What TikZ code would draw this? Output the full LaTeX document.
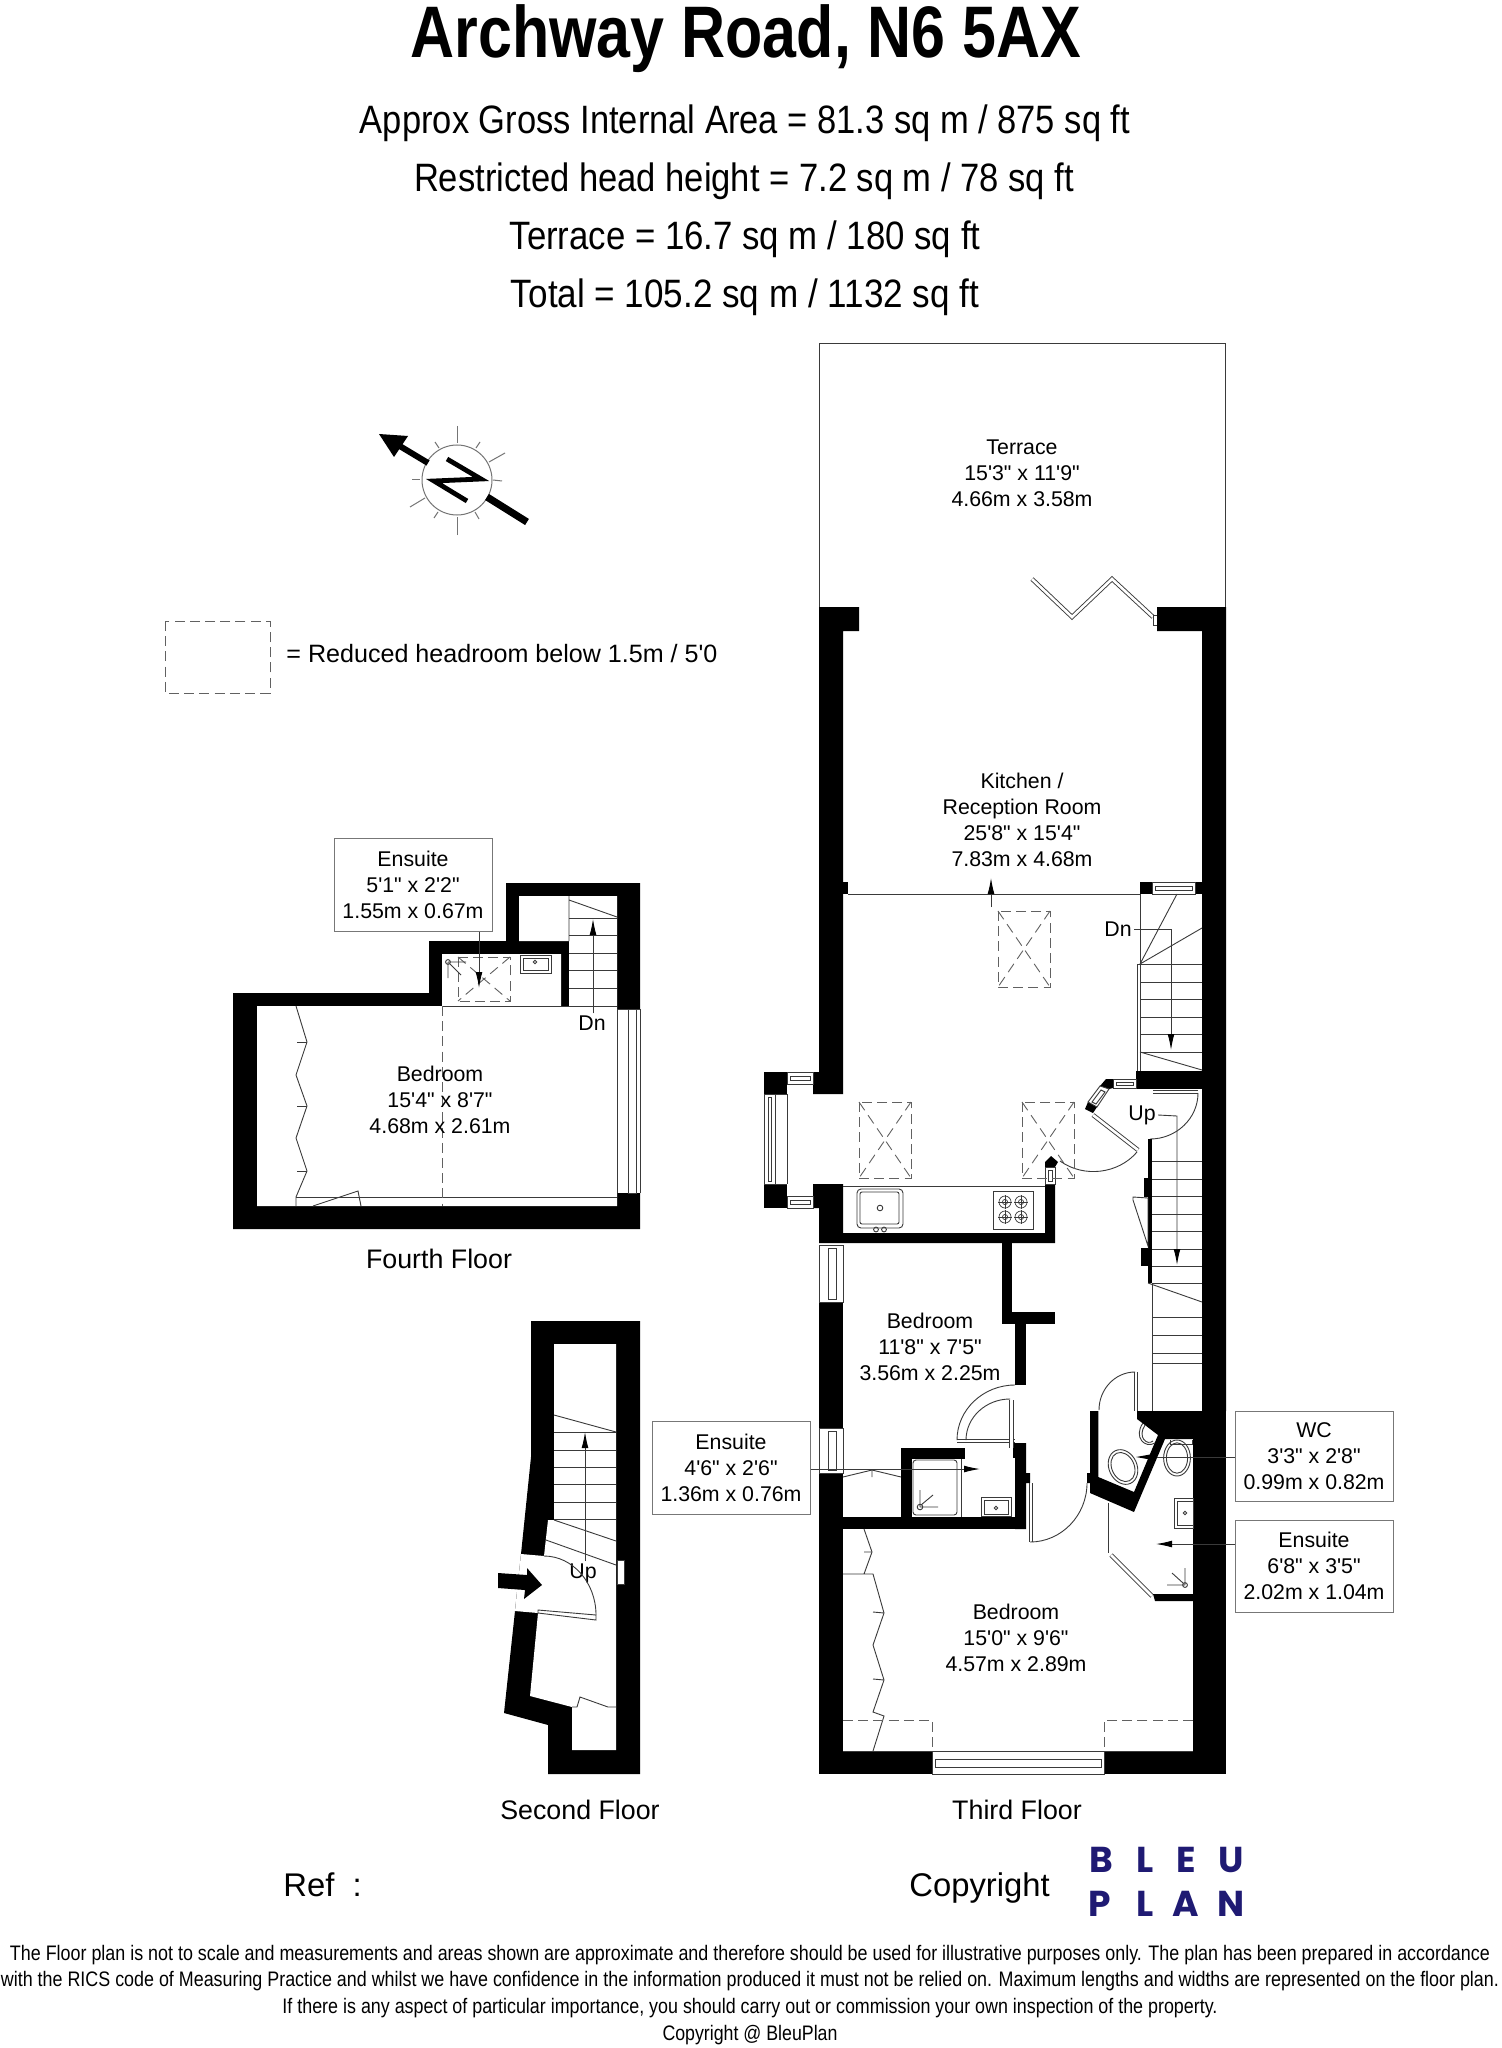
\documentclass[tikz,border=0pt]{standalone}
\usepackage{fontspec}
\usepackage{graphicx}
\setmainfont{Liberation Sans}[Ligatures=TeXOff]
\newfontfamily\logofont{Poppins}
\usetikzlibrary{calc,arrows.meta}
\definecolor{ln}{HTML}{3A3A3A}
\definecolor{boxln}{HTML}{777777}
\definecolor{navy}{HTML}{1F1A73}
\newcommand\fitw[3]{\resizebox{#1pt}{\height}{\fontsize{#2}{#2}\selectfont #3}}
\newcommand\winH[4]{%
  \pgfmathsetmacro\wya{#2+0.38*(#4-#2)}\pgfmathsetmacro\wyb{#2+0.72*(#4-#2)}%
  \pgfmathsetmacro\wxa{#1+3}\pgfmathsetmacro\wxb{#3-3}%
  \draw[thinl,fill=white] (#1,#2) rectangle (#3,#4);
  \draw[thinl] (\wxa,\wya) rectangle (\wxb,\wyb);}
\newcommand\winV[4]{%
  \pgfmathsetmacro\wxa{#1+0.38*(#3-#1)}\pgfmathsetmacro\wxb{#1+0.72*(#3-#1)}%
  \pgfmathsetmacro\wya{#2+3}\pgfmathsetmacro\wyb{#4-3}%
  \draw[thinl,fill=white] (#1,#2) rectangle (#3,#4);
  \draw[thinl] (\wxa,\wya) rectangle (\wxb,\wyb);}
\newcommand\qarc[6]{\draw[thinl] (#1,#2) .. controls ($(#1,#2)!.55!(#5,#6)$) and ($(#3,#4)!.55!(#5,#6)$) .. (#3,#4);}
\newcommand\skylight[4]{%
  \draw[dashl] (#1,#2) rectangle (#3,#4);
  \draw[dashl,dash pattern=on 5pt off 3pt] (#1,#2) -- (#3,#4) (#3,#2) -- (#1,#4);}
\tikzset{
  wall/.style={fill=black,draw=none},
  thinl/.style={draw=ln,line width=.45pt},
  dashl/.style={draw=ln!80,line width=.45pt,dash pattern=on 5pt off 2.6pt},
  leaf/.style={draw=ln,line width=.45pt,double=white,double distance=1.3pt},
  tipl/.style={thinl,-{Latex[length=8pt,width=3.4pt,black]}},
  room/.style={inner sep=0pt,align=center,font=\fontsize{10.66}{13}\selectfont},
  lbox/.style={draw=boxln,line width=.5pt,fill=white,inner sep=0pt,align=center,font=\fontsize{10.66}{13}\selectfont},
  floorl/.style={inner sep=0pt,font=\fontsize{13.4}{16}\selectfont},
  big/.style={inner sep=0pt,anchor=base west,font=\fontsize{16.4}{20}\selectfont},
  heading/.style={inner sep=0pt,anchor=base},
  logol/.style={inner sep=0pt,text=navy,font=\logofont\bfseries\fontsize{18}{18}\selectfont}
}
\begin{document}
\begin{tikzpicture}[x=0.5pt,y=-0.5pt,line join=miter]
\useasboundingbox (0,0) rectangle (1502,2048);
\fill[white] (0,0) rectangle (1502,2048);
% ---------- headings
\node[heading] (title) at (746,58) {\fitw{335.5}{36.5}{\bfseries Archway Road, N6 5AX}};
\node[heading] (s1) at (745,134) {\fitw{385}{19.8}{Approx Gross Internal Area = 81.3 sq m / 875 sq ft}};
\node[heading] (s2) at (744,192) {\fitw{330}{19.8}{Restricted head height = 7.2 sq m / 78 sq ft}};
\node[heading] (s3) at (745,250) {\fitw{235.4}{19.8}{Terrace = 16.7 sq m / 180 sq ft}};
\node[heading] (s4) at (745,308) {\fitw{234}{19.8}{Total = 105.2 sq m / 1132 sq ft}};
% ---------- compass
\draw[line width=.5pt,draw=ln!70] (457,480) circle (17.5pt);
\foreach \a/\b/\c/\d in {457/426/457/443, 457/535/457/517, 489/462/505/453, 410/507/425/498,
  435/442/439/448, 480/442/476/448, 412/479/420/479, 493/480/502/481, 434/518/438/512, 479/519/475/512}
  \draw[line width=.5pt,draw=ln!70] (\a,\b) -- (\c,\d);
\draw[line width=3.6pt] (527,522) -- (487,497);
\draw[line width=3pt] (428,463) -- (398,445);
\fill (379,434) -- (408,436) -- (394,457) -- cycle;
\draw[line width=2.4pt] (447,459) -- (481,479) -- (434,481) -- (467,501);
% ---------- legend
\draw[dashl] (165,621) rectangle (270,693);
\node[inner sep=0pt,anchor=west,font=\fontsize{12.55}{15}\selectfont] (legend) at (286,654) {= Reduced headroom below 1.5m / 5'0};
% ---------- terrace
\draw[thinl] (819,607) -- (819,343) -- (1225,343) -- (1225,607);
\node[room] (terrace) at (1022,473) {Terrace\\15'3" x 11'9"\\4.66m x 3.58m};
\draw[leaf] (1032,579) -- (1072,617) -- (1112,579) -- (1153,617);
\draw[thinl] (1153,615) rectangle (1157,625);
% ---------- third floor walls
\fill[wall] (819,607) -- (859,607) -- (859,631) -- (843,631) -- (843,1094) -- (813,1094) -- (813,1072) -- (819,1072) -- cycle;
\fill[wall] (843,882) rectangle (848,894);
\fill[wall] (1157,607) -- (1226,607) -- (1226,1411) -- (1202,1411) -- (1202,631) -- (1157,631) -- cycle;
\fill[wall] (1193,1439) rectangle (1226,1774);
\fill[wall] (1202,1405) rectangle (1226,1445);
\fill[wall] (819,1751) rectangle (932,1774);
\fill[wall] (1104,1751) rectangle (1226,1774);
\fill[wall] (819,1473) rectangle (843,1774);
\fill[wall] (819,1302) rectangle (843,1428);
\fill[wall] (813,1184) -- (843,1184) -- (843,1233) -- (1045,1233) -- (1045,1184) -- (1055,1184) -- (1055,1243) -- (819,1243) -- (819,1208) -- (813,1208) -- cycle;
\fill[wall] (764,1072) rectangle (787,1094);
\fill[wall] (764,1184) rectangle (787,1208);
% top window
\fill[wall] (1140,882) rectangle (1152,894);
\fill[wall] (1195,882) rectangle (1202,894);
\winH{1152}{882}{1195}{894}
\draw[thinl] (848,894) -- (1140,894);
% bay windows
\winH{787}{1072}{813}{1084}
\winH{787}{1196}{813}{1208}
\winV{764}{1094}{775}{1184}
\draw[thinl] (764,1094) -- (787,1094) (787,1094) -- (787,1184) (775,1184) -- (787,1184);
% left wall windows
\winV{819}{1245}{843}{1302}
\winV{819}{1428}{843}{1473}
% bottom window
\winH{932}{1751}{1104}{1774}
% top door wall and angled window
\fill[wall] (1136,1071) rectangle (1202,1089);
\winH{1113}{1079}{1136}{1088}
\fill[wall] (1106,1079) -- (1113,1079) -- (1113,1088) -- (1109,1089) -- (1100,1086) -- cycle;
\fill[wall] (1085,1109) -- (1088,1102) -- (1097,1107) -- (1093,1113) -- cycle;
\draw[thinl,fill=white] (1088,1102) -- (1100,1086) -- (1109,1089) -- (1097,1107) -- cycle;
\draw[thinl] (1092,1102) -- (1101,1090) -- (1105,1092) -- (1096,1104) -- cycle;
% kitchen door
\draw[leaf] (1093,1115) -- (1138,1150);
\qarc{1137}{1152}{1060}{1161}{1103}{1192}
\fill[wall] (1045,1167) -- (1045,1162) -- (1051,1156) -- (1058,1162) -- (1055,1167) -- cycle;
\winV{1045}{1167}{1055}{1184}
% kitchen fittings
\draw[thinl] (843,1186) -- (1045,1186);
\draw[thinl,rounded corners=2pt] (857,1189) rectangle (903,1228);
\draw[thinl,rounded corners=1pt] (860,1192) rectangle (899,1224);
\draw[thinl] (880,1208) circle (1.4pt) (876,1229.5) circle (1.2pt) (884,1229.5) circle (1.2pt);
\draw[thinl] (993,1191) rectangle (1033,1229);
\foreach \bx/\by in {1005/1202,1021/1202,1005/1217,1021/1217}{
  \draw[thinl,line width=.35pt] (\bx,\by) circle (3pt) (\bx,\by) circle (1.3pt);
  \draw[thinl,line width=.35pt] (\bx-7,\by) -- (\bx+7,\by) (\bx,\by-7) -- (\bx,\by+7);}
% skylights
\skylight{998}{911}{1050}{987}
\skylight{859}{1102}{911}{1178}
\skylight{1022}{1102}{1074}{1178}
% up-arrow kitchen
\coordinate (kstart) at (991,907);
\coordinate (ktip) at (991,878);
\draw[tipl] (kstart) -- (ktip);
\node[room] (kitchen) at (1022,820) {Kitchen /\\Reception Room\\25'8" x 15'4"\\7.83m x 4.68m};
% stairs down from kitchen
\draw[thinl] (1140,894) -- (1140,1071) (1137,964) -- (1137,1071) (1137,964) -- (1140,964);
\draw[thinl] (1140,964) -- (1177,894) (1140,964) -- (1202,928) (1140,1052) -- (1202,1070);
\foreach \ty in {964,982,999,1017,1034,1052}
  \draw[thinl] (1140,\ty) -- (1202,\ty);
\node[inner sep=0pt,font=\fontsize{10.66}{13}\selectfont] (dn1) at (1118,929) {Dn};
\coordinate (dn1c) at (1171,929);
\coordinate (dn1t) at (1171,1050);
\draw[tipl] (dn1.east) ++(2,0) -- (dn1c) -- (dn1t);
% up door and stairs
\draw[leaf] (1153,1092) -- (1198,1092);
\qarc{1198}{1093}{1150}{1139}{1198}{1139}
\fill[wall] (1148,1139) rectangle (1152,1283);
\fill[wall] (1144,1178) rectangle (1148,1197);
\fill[wall] (1141,1248) rectangle (1148,1266);
\draw[thinl] (1133,1197) -- (1148,1198) -- (1148,1246) -- (1133,1200) -- cycle;
\foreach \ty in {1161,1179,1196,1214,1231,1249,1266,1283,1317,1335,1353,1363}
  \draw[thinl] (1152,\ty) -- (1202,\ty);
\draw[thinl] (1148,1283) -- (1202,1302);
\draw[thinl] (1152,1283) -- (1152,1411);
\node[inner sep=0pt,font=\fontsize{10.66}{13}\selectfont] (up1) at (1142,1115) {Up};
\coordinate (up1c) at (1177,1116);
\coordinate (up1t) at (1177,1265);
\draw[tipl] (up1.east) ++(2,0) -- (up1c) -- (up1t);
% bedroom partition walls
\fill[wall] (1002,1243) rectangle (1012,1324);
\fill[wall] (1002,1312) rectangle (1055,1324);
\fill[wall] (1015,1324) rectangle (1026,1385);
\node[room] (bed2) at (930,1347) {Bedroom\\11'8" x 7'5"\\3.56m x 2.25m};
% lower ensuite
\fill[wall] (843,1517) rectangle (1026,1529);
\fill[wall] (1015,1443) -- (1026,1443) -- (1026,1473) -- (1030,1473) -- (1030,1483) -- (1026,1483) -- (1026,1529) -- (1015,1529) -- cycle;
\fill[wall] (1013,1443) rectangle (1015,1458);
\fill[wall] (901,1448) rectangle (965,1459);
\fill[wall] (901,1448) rectangle (912,1517);
\draw[thinl,rounded corners=1.5pt] (913,1460) rectangle (957,1515);
\draw[thinl] (961,1459) -- (961,1517);
\draw[thinl] (981,1497) rectangle (1011,1516) (984,1500) rectangle (1008,1514);
\draw[thinl] (996,1508) circle (.9pt);
\draw[thinl] (920,1507) circle (1.4pt) (920,1507) -- (920,1490) (920,1507) -- (938,1507) (921,1505) -- (933,1495);
\draw[leaf] (957,1441) -- (1015,1441);
\draw[leaf] (1011.5,1400) -- (1011.5,1448);
\qarc{957}{1440}{1015}{1385}{957}{1385}
\qarc{966}{1440}{1010}{1399}{966}{1399}
\draw[thinl] (843,1477) -- (872,1470) -- (901,1477) (872,1470) -- (872,1477);
\node[lbox,minimum width=79pt,minimum height=46.5pt] (ensA) at (731,1468) {Ensuite\\4'6" x 2'6"\\1.36m x 0.76m};
\coordinate (ensAt) at (980,1469);
\draw[tipl] (ensA.east |- ensAt) -- (ensAt);
% WC block
\fill[wall] (1090,1411) -- (1098.3,1411) -- (1098.3,1477) -- (1134,1492) -- (1158,1435) -- (1137,1419) -- (1137,1411) -- (1202,1411) -- (1202,1439) -- (1165,1439) -- (1134,1512) -- (1090,1493) -- (1090,1483) -- (1087,1483) -- (1087,1473) -- (1090,1473) -- cycle;
\draw[leaf] (1136,1372) -- (1136,1411);
\qarc{1135}{1372}{1099}{1410}{1099}{1372}
\draw[leaf] (1031,1483) -- (1031,1542);
\qarc{1030}{1542}{1087}{1483}{1087}{1542}
% WC fittings
\draw[thinl] (1143,1423) .. controls (1133,1437) and (1145,1449) .. (1155,1443);
\draw[thinl] (1145,1425) .. controls (1137,1437) and (1147,1446) .. (1153,1441);
\draw[thinl,rotate around={25:(1123,1467)}] (1123,1467) ellipse (7pt and 9pt) (1123,1467) ellipse (5.6pt and 7.6pt);
\draw[thinl] (1177,1458) ellipse (6.7pt and 9pt) (1177,1458) ellipse (5.3pt and 7.6pt);
\draw[thinl] (1170,1440) -- (1170,1444) -- (1192,1444) -- (1192,1440);
\node[lbox,minimum width=79pt,minimum height=45pt] (wc) at (1314,1456) {WC\\3'3" x 2'8"\\0.99m x 0.82m};
\coordinate (wct) at (1157,1457);
\coordinate (wctip) at (1136,1457);
\draw[thinl] (wc.west |- wct) -- (wct);
\fill (1150,1454.5) -- (1150,1459.5) -- (wctip) -- cycle;
% right ensuite
\draw[thinl] (1174,1498) rectangle (1193,1528) (1177,1501) rectangle (1193,1525);
\draw[thinl] (1185,1513) circle (.9pt);
\draw[thinl] (1108,1503) -- (1108,1553);
\draw[leaf] (1111,1555) -- (1152,1596);
\fill[wall] (1153,1594) -- (1193,1594) -- (1193,1601) -- (1155,1601) -- cycle;
\draw[thinl] (1185,1585) circle (1.2pt) (1185,1585) -- (1185,1568) (1185,1585) -- (1167,1585) (1183,1583) -- (1172,1573);
\node[lbox,minimum width=79pt,minimum height=46pt] (ensB) at (1314,1566) {Ensuite\\6'8" x 3'5"\\2.02m x 1.04m};
\coordinate (ensBt) at (1156,1544);
\draw[tipl] (ensB.west |- ensBt) -- (ensBt);
% wardrobes and bedroom
\draw[thinl] (864,1529) -- (872,1552) -- (864,1574) (843,1574) -- (873,1574) -- (884,1613) -- (873,1645) -- (884,1680) -- (873,1712) -- (884,1716) -- (873,1751);
\draw[thinl] (864,1552) -- (872,1552) (873,1612) -- (884,1613) (873,1679) -- (884,1680);
\draw[dashl] (843,1720) -- (932,1720) -- (932,1751);
\draw[dashl] (1193,1720) -- (1104,1720) -- (1104,1751);
\draw[thinl] (843,1751) -- (1193,1751);
\node[room] (bed1) at (1016,1638) {Bedroom\\15'0" x 9'6"\\4.57m x 2.89m};
\node[floorl] (third) at (1017,1810) {Third Floor};
% ---------- fourth floor
\fill[wall] (233,993) -- (429,993) -- (429,941) -- (506,941) -- (506,883) -- (640,883) -- (640,1229) -- (233,1229) -- cycle;
\fill[white] (257,1006) -- (442,1006) -- (442,954) -- (561,954) -- (561,1006) -- (569,1006) -- (569,941) -- (519,941) -- (519,896) -- (617,896) -- (617,1206) -- (257,1206) -- cycle;
\fill[white] (617,1009) rectangle (640,1193);
\draw[thinl] (617,1009) -- (617,1193) (628,1009) rectangle (636,1193) (640,1009) -- (640,1193) (617,1009) -- (640,1009);
\draw[thinl] (442,1006) -- (617,1006) (296,1197) -- (617,1197);
\draw[dashl] (442,1006) -- (442,1206);
\draw[dashl] (458,957) rectangle (510,1001);
\draw[dashl,dash pattern=on 5pt off 3pt] (458,957) -- (510,1001) (510,957) -- (458,1001);
\draw[thinl] (296,1006) -- (307,1042) -- (296,1075) -- (307,1106) -- (296,1138) -- (307,1171) -- (296,1197) -- (296,1206);
\draw[thinl] (297,1042) -- (307,1042) (297,1106) -- (307,1106) (297,1171) -- (307,1171);
\draw[thinl] (313,1206) -- (358,1191) -- (361,1206);
\draw[thinl] (448,962) circle (1.2pt) (448,962) -- (466,962) (448,962) -- (448,978) (450,964) -- (461,975);
\draw[thinl] (520,955) rectangle (551,973) (523,958) rectangle (548,970);
\draw[thinl] (535,962) circle (.9pt);
\draw[thinl] (569,896) -- (569,941) (569,900) -- (617,917);
\foreach \ty in {918,935,953,970,988}
  \draw[thinl] (569,\ty) -- (617,\ty);
\node[inner sep=0pt,font=\fontsize{10.66}{13}\selectfont] (dn2) at (592,1023) {Dn};
\coordinate (dn2t) at (593,919);
\draw[tipl] (dn2.north) ++(1,-2) -- (dn2t);
\node[lbox,minimum width=79pt,minimum height=46.5pt] (ensC) at (413,884.5) {Ensuite\\5'1" x 2'2"\\1.55m x 0.67m};
\coordinate (ensCt) at (479,988);
\draw[tipl] (ensC.south -| ensCt) -- (ensCt);
\node[room] (bed4) at (440,1100) {Bedroom\\15'4" x 8'7"\\4.68m x 2.61m};
\node[floorl] (fourth) at (439,1259) {Fourth Floor};
% ---------- second floor
\fill[wall] (531,1321) -- (640,1321) -- (640,1774) -- (548,1774) -- (548,1725) -- (504,1713) -- (515,1611) -- (521,1554) -- (531,1457) -- cycle;
\fill[white] (554,1344) -- (616,1344) -- (616,1750) -- (572,1750) -- (572,1707) -- (530,1696) -- (538,1613) -- (515,1611) -- (521,1554) -- (544,1556) -- (548,1520) -- (554,1520) -- cycle;
\draw[thinl,fill=white] (617,1560) rectangle (624,1584);
\foreach \ty in {1432,1450,1467,1484,1502,1519}
  \draw[thinl] (554,\ty) -- (616,\ty);
\draw[thinl] (554,1415) -- (616,1432) (554,1520) -- (616,1541) (546,1540) -- (616,1565);
\node[inner sep=0pt,font=\fontsize{10.66}{13}\selectfont] (up2) at (583,1573) {Up};
\coordinate (up2t) at (585,1432);
\draw[tipl] (up2.north) ++(2,-2) -- (up2t);
\draw[thinl,fill=white] (538,1610) -- (596,1615) -- (596,1620) -- (538,1613) -- cycle;
\qarc{596}{1615}{544}{1556}{596}{1556}
\fill (498,1573) -- (527,1575) -- (527,1568) -- (542,1585) -- (524,1599) -- (525,1590) -- (498,1588) -- cycle;
\draw[thinl] (572,1707) -- (577,1707) -- (580,1697) -- (608,1707) -- (616,1707);
\node[floorl] (second) at (580,1810) {Second Floor};
% ---------- bottom
\node[big] (ref) at (283,1896) {Ref \ :};
\node[big] (copy) at (909,1896) {Copyright};
\node[logol] (lb) at (1101,1859.5) {B};
\node[logol] (ll) at (1145,1859.5) {L};
\node[logol] (le) at (1186,1859.5) {E};
\node[logol] (lu) at (1231.5,1859.5) {U};
\node[logol] (lp) at (1100,1903.5) {P};
\node[logol] (lm) at (1145,1903.5) {L};
\node[logol] (la) at (1186,1903.5) {A};
\node[logol] (ln) at (1231.5,1903.5) {N};
\node[heading] (f1) at (750,1960) {\fitw{740}{10.5}{The Floor plan is not to scale and measurements and areas shown are approximate and therefore should be used for illustrative purposes only. The plan has been prepared in accordance}};
\node[heading] (f2) at (750,1986) {\fitw{749}{10.5}{with the RICS code of Measuring Practice and whilst we have confidence in the information produced it must not be relied on. Maximum lengths and widths are represented on the floor plan.}};
\node[heading] (f3) at (750,2013) {\fitw{467.5}{10.5}{If there is any aspect of particular importance, you should carry out or commission your own inspection of the property.}};
\node[heading] (f4) at (750,2040) {\fitw{87.5}{10.5}{Copyright @ BleuPlan}};
\end{tikzpicture}
\end{document}
